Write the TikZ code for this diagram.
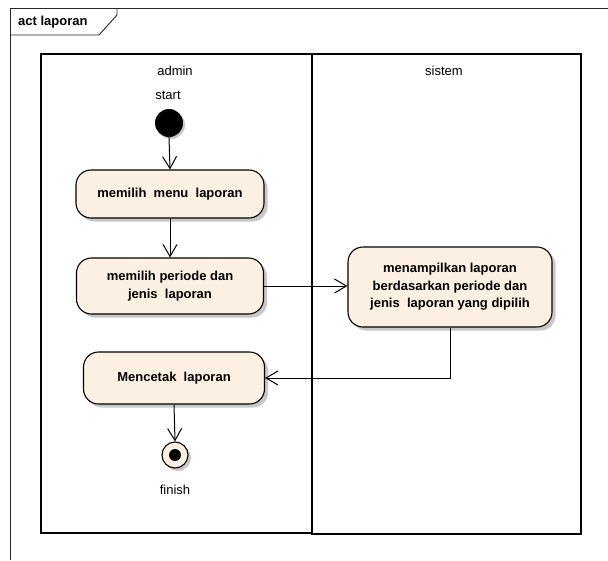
\documentclass[tikz,border=0pt]{standalone}
\usepackage{fontspec}
\setmainfont{Liberation Sans}
\usetikzlibrary{arrows.meta,shadows,calc}
\definecolor{cream}{HTML}{FBF0E1}
\definecolor{shade}{HTML}{C8C8C8}
\tikzset{
  actbox/.style={draw=black, line width=1.1pt, fill=cream, rounded corners=15pt,
    align=center, font=\fontsize{13}{17.5}\selectfont\bfseries, inner sep=2pt,
    drop shadow={shadow xshift=3.5pt, shadow yshift=-3.5pt, fill=shade, opacity=1}},
  flow/.style={draw=black, line width=1pt, -{Straight Barb[length=12pt,width=14pt,line width=1pt]}},
  lane/.style={draw=black, line width=1.3pt},
  lbl/.style={font=\fontsize{13}{15}\selectfont, inner sep=0pt}
}
\begin{document}
\begin{tikzpicture}[x=1pt,y=-1pt]
\useasboundingbox (0,0) rectangle (608,560);
\fill[white] (0,0) rectangle (608,560);
% outer frame
\draw[line width=0.9pt, draw=black!85] (608,8) -- (10,8) -- (10,560);
\draw[line width=0.9pt, draw=black!85] (10,35) -- (99,35) -- (117,15) -- (117,8);
\node[lbl, font=\fontsize{13}{15}\selectfont\bfseries, anchor=west] (title) at (18,22) {act laporan};
% lanes
\draw[lane] (41,54) rectangle (312,533);
\draw[lane] (312,54) rectangle (581,534);
\node[lbl] (admin) at (175,71) {admin};
\node[lbl] (sistem) at (444,71) {sistem};
% start
\node[lbl] (startlbl) at (168,95) {start};
\node[circle, fill=black, minimum size=28pt, inner sep=0pt,
  drop shadow={shadow xshift=2pt, shadow yshift=-2pt, fill=shade, opacity=1}] (start) at (169,123) {};
% activities
\node[actbox, minimum width=188pt, minimum height=48pt] (b1) at (170,194) {memilih\ \ menu\ \ laporan};
\node[actbox, minimum width=187pt, minimum height=56pt] (b2) at (170,286) {memilih periode dan\\jenis\ \ laporan};
\node[actbox, minimum width=204pt, minimum height=80pt] (b4) at (450,287) {menampilkan laporan\\berdasarkan periode dan\\jenis\ \ laporan yang dipilih};
\node[actbox, minimum width=181pt, minimum height=52pt] (b3) at (174,378) {Mencetak\ \ laporan};
% finish
\node[circle, draw=black, line width=1.1pt, fill=cream, minimum size=26pt, inner sep=0pt,
  drop shadow={shadow xshift=3pt, shadow yshift=-3pt, fill=shade, opacity=1}] (finish) at (175,455) {};
\node[circle, fill=black, minimum size=12pt, inner sep=0pt] (finishdot) at (finish.center) {};
\node[lbl] (finishlbl) at (175,490) {finish};
% flows
\draw[flow] (start.south) -- (b1.north);
\draw[flow] (b1.south) -- (b2.north);
\draw[flow] (b2.east) -- (b2.east -| b4.west);
\draw[flow] (b4.south) |- (b3.east);
\draw[flow] (b3.south) -- (finish.north);
\end{tikzpicture}
\end{document}
